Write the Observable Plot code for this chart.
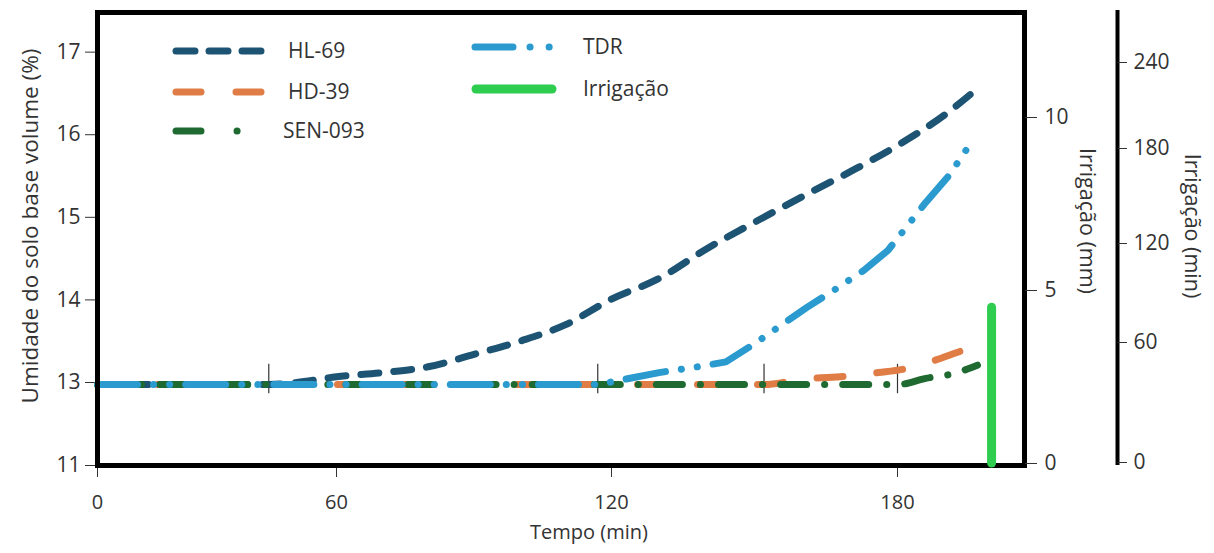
<!DOCTYPE html>
<html><head><meta charset="utf-8">
<script src="https://cdn.jsdelivr.net/npm/d3@7"></script>
<script src="https://cdn.jsdelivr.net/npm/@observablehq/plot@0.6"></script>
<style>
body{margin:0;background:#fff;}
#wrap{position:relative;width:1214px;height:553px;overflow:hidden;}
#wrap svg{position:absolute;left:0;top:0;}
</style></head><body><div id="wrap"></div>
<script>
// ---- data ----
const seriesNames = ["HL-69", "HD-39", "SEN-093", "TDR"];
const hl69T = [0, 43, 50, 60, 70, 80, 90, 100, 110, 120, 130, 140, 150, 160, 170, 180, 190, 197];
const hl69V = [12.95, 12.95, 13.0, 13.07, 13.12, 13.19, 13.34, 13.50, 13.70, 14.01, 14.26, 14.62, 14.94, 15.25, 15.55, 15.87, 16.24, 16.56];
const hd39T = [0, 152, 160, 170, 176, 182, 188, 194, 200];
const hd39V = [12.95, 12.95, 13.04, 13.08, 13.12, 13.17, 13.27, 13.39, 13.49];
const sen093T = [0, 180, 186, 192, 197];
const sen093V = [12.95, 12.95, 13.05, 13.11, 13.21];
const tdrT = [0, 117, 130, 137, 144, 150, 161, 167, 173, 178, 186, 191, 195];
const tdrV = [12.95, 12.95, 13.12, 13.18, 13.25, 13.47, 13.91, 14.13, 14.36, 14.60, 15.18, 15.51, 15.85];
const irrigT = [200];
const irrigMm = [4.5];
const departT = [43, 117, 152, 180];
const xTicks = [0, 60, 120, 180];
const yTicks = [11, 13, 14, 15, 16, 17];
const mmTicks = [0, 5, 10];
const minTicks = [0, 60, 120, 180, 240];

// ---- styling ----
const W = 1214, H = 553;
const FONT = '"Open Sans", "Noto Sans", sans-serif';
const TXT = "#333";
const look = {
  "HL-69":   {stroke: "#1d5373", dash: "18,15", curve: "monotone-x"},
  "HD-39":   {stroke: "#e07c45", dash: "26,34", curve: "monotone-x"},
  "SEN-093": {stroke: "#1f6a30", dash: "26,18,0.1,18", curve: "monotone-x"},
  "TDR":     {stroke: "#2b9bcf", dash: "40,16,0.1,16,0.1,16", curve: "linear"}
};
const IRR = "#2ecc4f";

const tList = [hl69T, hd39T, sen093T, tdrT];
const vList = [hl69V, hd39V, sen093V, tdrV];
const rows = seriesNames.flatMap((s, i) => tList[i].map((t, j) => ({s, t, v: vList[i][j]})));
const irrig = irrigT.map((t, i) => ({t, mm: irrigMm[i]}));

const xScale = {type: "linear", domain: [0, 60, 120, 180, 207], range: [97, 336, 611, 897, 1024]};
const common = {width: W, height: H, marginLeft: 97, marginRight: 190, marginTop: 12, marginBottom: 88};

const main = Plot.plot({
  ...common,
  style: {fontFamily: FONT, fontSize: "21px", color: TXT, background: "white", overflow: "visible"},
  x: xScale,
  y: {type: "linear", domain: [11, 13, 17.48], range: [465, 382, 12]},
  marks: [
    Plot.axisX({ticks: xTicks, tickSize: 12, tickPadding: 17, label: null, fontSize: 20, tickFormat: d => String(d)}),
    Plot.axisY({ticks: yTicks, tickSize: 12, tickPadding: 5, label: null, fontSize: 21, tickFormat: d => String(d)}),
    Plot.ruleX(departT, {y1: 12.73, y2: 13.22, stroke: "#333", strokeWidth: 1.2}),
    ...seriesNames.map(name => Plot.line(rows.filter(d => d.s === name), {
      x: "t", y: "v", stroke: look[name].stroke, strokeWidth: 7,
      strokeLinecap: "round", strokeDasharray: look[name].dash, curve: look[name].curve
    })),
    Plot.frame({stroke: "black", strokeWidth: 5}),
    Plot.text(["Umidade do solo base volume (%)"], {frameAnchor: "left", textAnchor: "middle", dx: -67, dy: -13, rotate: -90, fontSize: 22.5, fill: TXT}),
    Plot.text(["Tempo (min)"], {frameAnchor: "bottom", textAnchor: "middle", dx: 28, dy: 73, fontSize: 20, fill: TXT})
  ]
});

const mmPlot = Plot.plot({
  ...common,
  style: {fontFamily: FONT, fontSize: "21px", color: TXT, background: "transparent", overflow: "visible"},
  x: {...xScale, axis: null},
  y: {domain: [0, 10], range: [463, 117]},
  marks: [
    Plot.axisY({anchor: "right", ticks: mmTicks, tickSize: 12, tickPadding: 8, label: null, fontSize: 21, tickFormat: d => String(d)}),
    Plot.ruleX(irrig, {x: "t", y1: 0, y2: "mm", stroke: IRR, strokeWidth: 9, strokeLinecap: "round"}),
    Plot.text(["Irrigação (mm)"], {frameAnchor: "right", textAnchor: "middle", dx: 62, dy: -18, rotate: 90, fontSize: 21.5, fill: TXT})
  ]
});

const minPlot = Plot.plot({
  width: W, height: H, marginLeft: 0, marginRight: 97, marginTop: 10, marginBottom: 88,
  style: {fontFamily: FONT, fontSize: "21px", color: TXT, background: "transparent", overflow: "visible"},
  x: {domain: [0, 1], axis: null},
  y: {type: "linear", domain: [0, 60, 120, 180, 240], range: [462, 342, 243, 148, 62]},
  marks: [
    Plot.ruleX([1], {stroke: "black", strokeWidth: 4}),
    Plot.axisY({anchor: "right", ticks: minTicks, tickSize: 9, tickPadding: 7, label: null, fontSize: 21, tickFormat: d => String(d)}),
    Plot.text(["Irrigação (min)"], {frameAnchor: "right", textAnchor: "middle", dx: 74, dy: -12, rotate: 90, fontSize: 21.5, fill: TXT})
  ]
});

const wrap = document.getElementById("wrap");
wrap.append(main, mmPlot, minPlot);

// ---- legend ----
const leg = d3.select(wrap).append("svg").attr("width", W).attr("height", H)
  .style("font-family", FONT).style("font-size", "21px");
const legItems = [
  {name: "HL-69", x: 176, x2: 261, y: 51, w: 7, dash: "19,14", stroke: look["HL-69"].stroke, tx: 288},
  {name: "HD-39", x: 176, x2: 261, y: 92, w: 7, dash: "25,35", stroke: look["HD-39"].stroke, tx: 288},
  {name: "SEN-093", x: 176, x2: 239, y: 131, w: 7, dash: "25,36,0.1,100", stroke: look["SEN-093"].stroke, tx: 283},
  {name: "TDR", x: 475, x2: 551, y: 47, w: 7, dash: "38,17,0.1,19,0.1,100", stroke: look["TDR"].stroke, tx: 583},
  {name: "Irrigação", x: 476, x2: 552, y: 89, w: 9, dash: null, stroke: IRR, tx: 583}
];
for (const it of legItems) {
  leg.append("line").attr("x1", it.x).attr("x2", it.x2).attr("y1", it.y).attr("y2", it.y)
    .attr("stroke", it.stroke).attr("stroke-width", it.w).attr("stroke-linecap", "round")
    .attr("stroke-dasharray", it.dash);
  leg.append("text").attr("x", it.tx).attr("y", it.y).attr("dy", "0.35em").attr("fill", TXT).text(it.name);
}
</script></body></html>
